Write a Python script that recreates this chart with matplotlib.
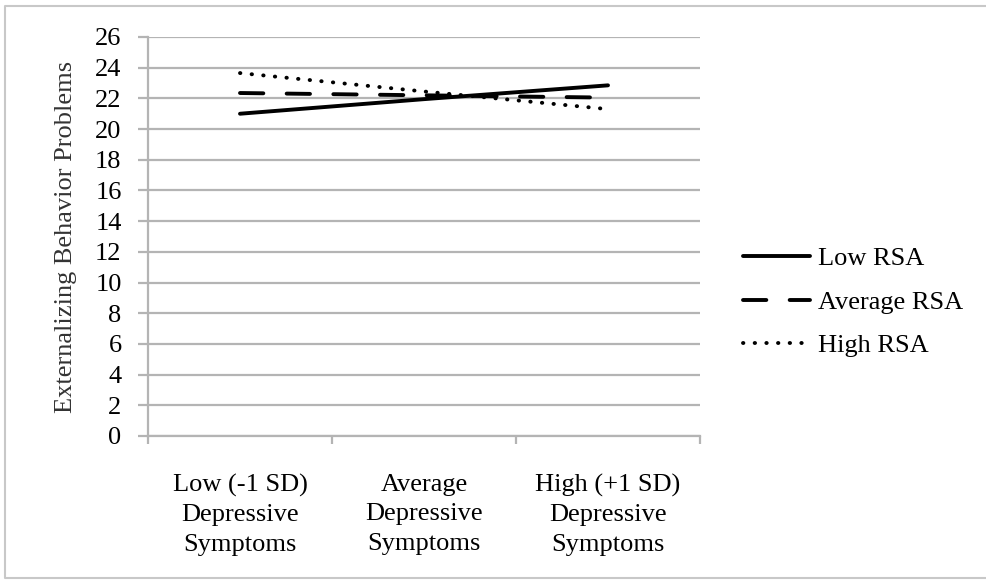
import matplotlib
matplotlib.use("Agg")
import matplotlib.pyplot as plt
from matplotlib.lines import Line2D

# data
categories = ["Low (-1 SD)\nDepressive\nSymptoms",
              "Average\nDepressive\nSymptoms",
              "High (+1 SD)\nDepressive\nSymptoms"]
low_rsa = [21.0, 21.95, 22.85]
avg_rsa = [22.35, 22.2, 22.05]
high_rsa = [23.65, 22.45, 21.3]
series_names = ["Low RSA", "Average RSA", "High RSA"]
yticks = list(range(0, 27, 2))

plt.rcParams['font.family'] = ['Liberation Serif', 'DejaVu Serif']
W, H = 987, 583
fs = 19
fig = plt.figure(figsize=(W / 100, H / 100), dpi=100)

# light frame around the chart area (open on the right, as in the source)
fx = [1.0, 5 / W, 5 / W, 1.0]
fy = [1 - 6 / H, 1 - 6 / H, 5 / H, 5 / H]
fig.add_artist(Line2D(fx, fy, transform=fig.transFigure, color='#c8c8c8', lw=1.5))

ax = fig.add_axes([148 / W, (H - 436) / H, (700 - 148) / W, (436 - 37) / H])
x = range(len(categories))
grid_c = '#b4b4b4'

ax.plot(x, low_rsa, color='black', lw=2.8, solid_capstyle='round', label=series_names[0])
ax.plot(x, avg_rsa, color='black', lw=2.8, dashes=(6, 6), dash_capstyle='round',
        label=series_names[1])
ax.plot(x, high_rsa, color='black', lw=2.8, dashes=(0.1, 2.9), dash_capstyle='round',
        label=series_names[2])

ax.set_xlim(-0.5, 2.5)
ax.set_ylim(0, 26)
ax.set_yticks(yticks)
ax.grid(axis='y', color=grid_c, lw=1.6)
ax.set_axisbelow(True)

ax.set_xticks(list(x))
ax.set_xticklabels(categories, fontsize=fs, linespacing=1.45)
ax.set_xticks([-0.5, 0.5, 1.5, 2.5], minor=True)
ax.tick_params(axis='x', which='major', length=0, pad=27)
ax.tick_params(axis='x', which='minor', length=6, width=1.6, color=grid_c, direction='out')
ax.tick_params(axis='y', length=7, width=1.6, color=grid_c, labelsize=fs, pad=12)

for s in ['top', 'right']:
    ax.spines[s].set_visible(False)
for s in ['left', 'bottom']:
    ax.spines[s].set_color(grid_c)
    ax.spines[s].set_linewidth(1.6)

ax.set_ylabel("Externalizing Behavior Problems", fontsize=fs, color='#333333', labelpad=13)

fig.legend(loc='center left', bbox_to_anchor=(743 / W, (H - 302) / H), frameon=False,
           fontsize=fs, handlelength=2.55, handletextpad=0.3, labelspacing=0.75,
           borderaxespad=0, borderpad=0)

fig.savefig("out.png", dpi=100)
